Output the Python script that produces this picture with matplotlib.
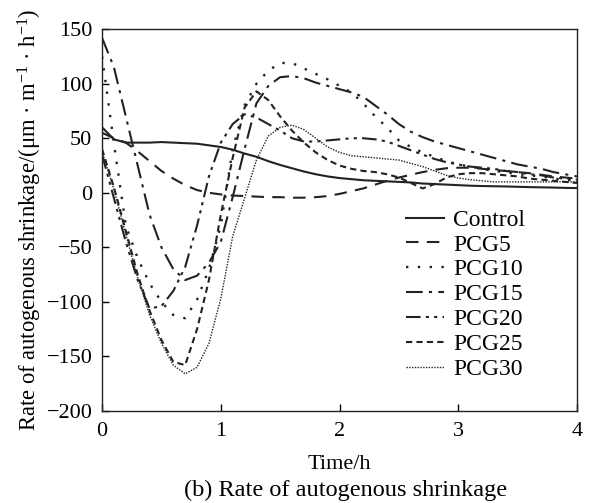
import numpy as np
import matplotlib
matplotlib.use("Agg")
import matplotlib.pyplot as plt

plt.rcParams['font.family'] = ['Liberation Serif', 'DejaVu Serif']
plt.rcParams['mathtext.fontset'] = 'custom'
plt.rcParams['mathtext.rm'] = 'Liberation Serif'
plt.rcParams['mathtext.it'] = 'Liberation Serif:italic'

# time grid (h), readings every 0.1 h
time_h = np.linspace(0, 4, 41)

control = [60, 49, 46, 46, 46, 46.5, 46, 45.5, 45, 43.5, 42, 39.5, 36, 33, 29, 25.5, 22.5, 19.5, 17, 15,
           13.5, 12.5, 11.5, 11, 10.5, 10, 9.5, 8.5, 8, 7.5, 7, 6.5, 6.2, 6, 5.8, 5.5, 5.2, 5, 4.8, 4.5, 4.3]
pcg5 = [55, 50, 46, 38, 29, 20, 13, 7, 2.5, 0, -1.5, -2.5, -3, -3.5, -4, -4, -4.5, -4.5, -4, -3, -1,
        1.5, 4, 7.5, 11, 14, 16.5, 19, 21, 22.5, 23, 23, 22, 21, 20, 19, 18, 16.5, 15, 14, 13]
pcg10 = [125, 45, -30, -60, -83, -100, -112, -115, -98, -70, -30, 40, 80, 100, 112, 119, 119, 114, 109, 104,
         98, 92, 82, 70, 60, 48, 42, 37, 33, 29, 26, 24, 22, 20, 19, 17, 16, 15, 13, 12, 11]
pcg15 = [142, 115, 70, 25, -20, -50, -70, -80, -76, -64, -45, -4, 40, 82, 98, 106, 107, 105, 101, 98,
         95, 92, 88, 80, 72, 63, 56, 51, 47, 44, 41, 38, 35, 32, 29, 26, 24, 22, 19, 17, 15]
pcg20 = [35, -5, -45, -80, -106, -104, -90, -68, -30, 15, 46, 63, 72, 69, 63, 57, 50, 47, 47, 48,
         49, 50, 50, 49, 47, 43, 39, 35, 31, 28, 26, 24, 23, 22, 20, 19, 17, 16, 14, 13, 12]
pcg25 = [40, 5, -35, -75, -108, -135, -155, -158, -125, -80, -20, 32, 78, 93, 85, 70, 57, 46, 37, 30,
         25, 22, 20, 19, 17, 14, 9, 4, 8, 14, 17, 18, 18, 17, 16, 15, 13, 12, 11, 10, 9]
pcg30 = [38, 3, -38, -78, -112, -138, -158, -166, -160, -138, -97, -40, -5, 30, 52, 60, 62, 58, 50, 42,
         37, 34, 33, 32, 31, 30, 27, 24, 20, 16, 13.5, 12, 11, 10, 10, 10, 10, 10, 10, 10, 10]

series = [
    ("Control", control, "-", 1.5),
    ("PCG5", pcg5, (0, (6, 4)), 1.5),
    ("PCG10", pcg10, (0, (1, 4)), 1.7),
    ("PCG15", pcg15, (0, (8, 3, 1.5, 3)), 1.5),
    ("PCG20", pcg20, (0, (7, 2.5, 1.5, 2.5, 1.5, 2.5)), 1.5),
    ("PCG25", pcg25, (0, (3, 2)), 1.5),
    ("PCG30", pcg30, (0, (1, 1)), 1.0),
]

fig = plt.figure(figsize=(5.9, 5.03), dpi=100)
ax = fig.add_axes([0.173, 0.183, 0.805, 0.759])

for name, vals, ls, lw in series:
    ax.plot(time_h, vals, color="#222222", linestyle=ls, linewidth=lw, label=name)

ax.set_xlim(0, 4)
ax.set_ylim(-200, 150)
ax.set_xticks([0, 1, 2, 3, 4])
ax.set_yticks([-200, -150, -100, -50, 0, 50, 100, 150])
ax.tick_params(direction="in", length=5, width=1, labelsize=16, top=False, right=False)
ax.tick_params(axis="x", pad=8)
ax.tick_params(axis="y", pad=7)
for sp in ax.spines.values():
    sp.set_linewidth(1.0)
    sp.set_color("#222222")

ax.set_xlabel("Time/h", fontsize=16, labelpad=10)
ax.set_ylabel("Rate of autogenous shrinkage/(μm · m$^{-1}$ · h$^{-1}$)", fontsize=16.3, labelpad=2)

ax.legend(loc="upper left", bbox_to_anchor=(0.62, 0.553), frameon=False, fontsize=17,
          handlelength=1.6, handletextpad=0.4, labelspacing=0.14, borderaxespad=0)

fig.text(0.585, 0.004, "(b) Rate of autogenous shrinkage", ha="center", va="bottom", fontsize=17.5)

fig.savefig("out.png", dpi=100)
